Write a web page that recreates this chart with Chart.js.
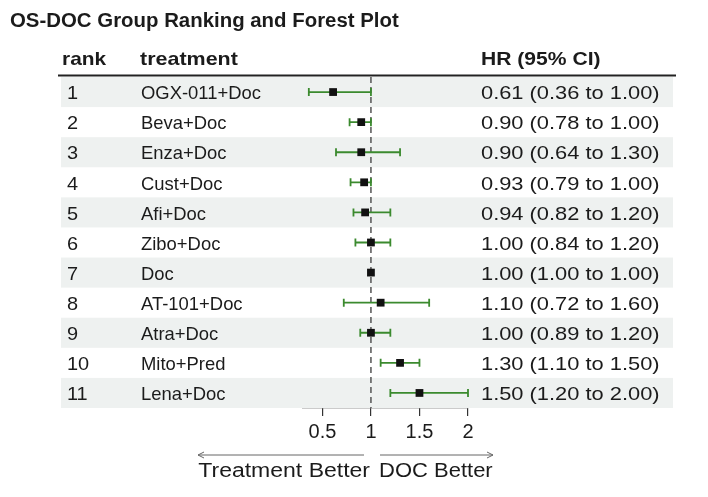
<!DOCTYPE html>
<html>
<head>
<meta charset="utf-8">
<script src="https://cdn.jsdelivr.net/npm/chart.js@4/dist/chart.umd.min.js"></script>
<style>
  html, body { margin: 0; padding: 0; background: #fff; }
  #wrap { width: 708px; height: 497px; position: relative; }
</style>
</head>
<body>
<div id="wrap"><canvas id="forest"></canvas></div>
<script>
// -------------------------------
// DATA
// -------------------------------
const ranks = [1, 2, 3, 4, 5, 6, 7, 8, 9, 10, 11];
const treatments = ["OGX-011+Doc", "Beva+Doc", "Enza+Doc", "Cust+Doc", "Afi+Doc",
  "Zibo+Doc", "Doc", "AT-101+Doc", "Atra+Doc", "Mito+Pred", "Lena+Doc"];
const hr    = [0.61, 0.90, 0.90, 0.93, 0.94, 1.00, 1.00, 1.10, 1.00, 1.30, 1.50];
const lower = [0.36, 0.78, 0.64, 0.79, 0.82, 0.84, 1.00, 0.72, 0.89, 1.10, 1.20];
const upper = [1.00, 1.00, 1.30, 1.00, 1.20, 1.20, 1.00, 1.60, 1.20, 1.50, 2.00];
const xTicks = [0.5, 1, 1.5, 2];

const FONT = "'Liberation Sans', Arial, sans-serif";
const TEXT = "#1b1b1b";
const GREEN = "#3b8a2e";

function hrLabel(i) {
  return hr[i].toFixed(2) + " (" + lower[i].toFixed(2) + " to " + upper[i].toFixed(2) + ")";
}

// text a bit wider than the font gives (the reference looks stretched)
function txt(ctx, s, x, y, align, sx) {
  ctx.save();
  ctx.translate(x, y);
  ctx.scale(sx || 1, 1);
  ctx.textAlign = align || "left";
  ctx.fillText(s, 0, 0);
  ctx.restore();
}

// -------------------------------
// TABLE + FOREST DRAWING
// -------------------------------
const forestPlugin = {
  id: "forest",
  beforeDatasetsDraw(chart) {
    const { ctx, chartArea, scales } = chart;
    const y = scales.y, x = scales.x;
    const rowH = Math.abs(y.getPixelForValue(2) - y.getPixelForValue(1));
    ctx.save();

    // zebra bands
    ctx.fillStyle = "#eef1f0";
    ranks.forEach((r, i) => {
      if (i % 2 === 0) {
        const cy = y.getPixelForValue(r);
        ctx.fillRect(61, cy - rowH / 2, 612, rowH);
      }
    });

    // header line
    ctx.strokeStyle = "#222";
    ctx.lineWidth = 2;
    ctx.beginPath();
    ctx.moveTo(58, chartArea.top - 1.5);
    ctx.lineTo(676, chartArea.top - 1.5);
    ctx.stroke();

    // reference line at 1
    const x1 = x.getPixelForValue(1);
    ctx.strokeStyle = "#555";
    ctx.lineWidth = 1.5;
    ctx.setLineDash([6, 4]);
    ctx.beginPath();
    ctx.moveTo(x1, chartArea.top);
    ctx.lineTo(x1, chartArea.bottom);
    ctx.stroke();
    ctx.setLineDash([]);

    // confidence intervals
    ctx.strokeStyle = GREEN;
    ctx.lineWidth = 1.8;
    ranks.forEach((r, i) => {
      if (lower[i] === upper[i]) return;
      const cy = y.getPixelForValue(r);
      const xl = x.getPixelForValue(lower[i]);
      const xu = x.getPixelForValue(upper[i]);
      ctx.beginPath();
      ctx.moveTo(xl, cy); ctx.lineTo(xu, cy);
      ctx.moveTo(xl, cy - 4); ctx.lineTo(xl, cy + 4);
      ctx.moveTo(xu, cy - 4); ctx.lineTo(xu, cy + 4);
      ctx.stroke();
    });
    ctx.restore();
  },
  afterDraw(chart) {
    const { ctx, scales } = chart;
    const y = scales.y;
    ctx.save();
    ctx.fillStyle = TEXT;
    ctx.textBaseline = "middle";

    // title
    ctx.font = "bold 20px " + FONT;
    txt(ctx, "OS-DOC Group Ranking and Forest Plot", 10, 21, "left", 1.02);

    // header
    ctx.font = "bold 19px " + FONT;
    txt(ctx, "rank", 62, 60, "left", 1.1);
    txt(ctx, "treatment", 140, 60, "left", 1.13);
    txt(ctx, "HR (95% CI)", 481, 60, "left", 1.11);

    // rows
    ctx.font = "19px " + FONT;
    ranks.forEach((r, i) => {
      const cy = y.getPixelForValue(r) + 2;
      txt(ctx, String(r), 67, cy, "left", 1.05);
      txt(ctx, treatments[i], 141, cy, "left", 0.97);
      txt(ctx, hrLabel(i), 481, cy, "left", 1.15);
    });

    // direction arrows
    const ay = 455;
    ctx.strokeStyle = "#666";
    ctx.lineWidth = 1;
    ctx.beginPath();
    ctx.moveTo(364, ay); ctx.lineTo(198, ay);
    ctx.moveTo(204, ay - 3); ctx.lineTo(198, ay); ctx.lineTo(204, ay + 3);
    ctx.moveTo(380, ay); ctx.lineTo(493, ay);
    ctx.moveTo(487, ay - 3); ctx.lineTo(493, ay); ctx.lineTo(487, ay + 3);
    ctx.stroke();

    ctx.font = "20px " + FONT;
    txt(ctx, "Treatment Better", 370, 471, "right", 1.15);
    txt(ctx, "DOC Better", 379, 471, "left", 1.1);
    ctx.restore();
  }
};

// -------------------------------
// CHART
// -------------------------------
new Chart(document.getElementById("forest"), {
  type: "scatter",
  data: {
    datasets: [{
      data: ranks.map((r, i) => ({ x: hr[i], y: r })),
      pointStyle: "rect",
      pointRadius: 5.5,
      pointHoverRadius: 5.5,
      backgroundColor: "#111",
      borderColor: "#111",
      borderWidth: 0
    }]
  },
  options: {
    responsive: true,
    maintainAspectRatio: false,
    animation: false,
    events: [],
    layout: { padding: { left: 303, right: 240, top: 77, bottom: 0 } },
    plugins: { legend: { display: false }, tooltip: { enabled: false } },
    scales: {
      x: {
        type: "linear",
        min: 0.3,
        max: 2,
        afterBuildTicks(scale) { scale.ticks = xTicks.map(v => ({ value: v })); },
        afterFit(scale) { scale.height = 89; },
        border: { display: true, color: "#333", width: 1.2 },
        grid: { display: true, drawOnChartArea: false, drawTicks: true, tickLength: 8, color: "#333", lineWidth: 1.2 },
        ticks: {
          padding: 4,
          color: TEXT,
          font: { family: FONT, size: 20 },
          callback: v => String(v)
        }
      },
      y: {
        type: "linear",
        min: 0.5,
        max: 11.5,
        reverse: true,
        display: false
      }
    }
  },
  plugins: [forestPlugin]
});
</script>
</body>
</html>
